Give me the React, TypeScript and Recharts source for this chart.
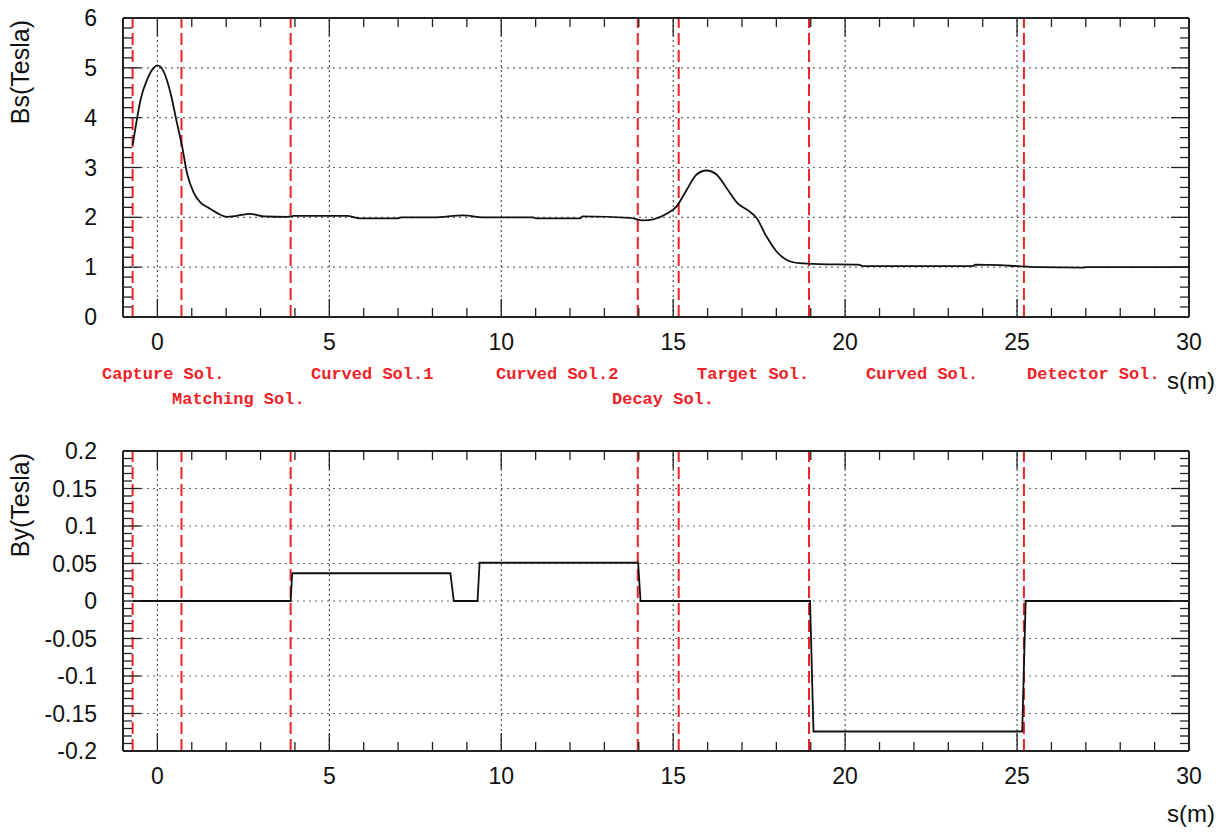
import React from 'react';
import { LineChart, Line, XAxis, YAxis, ReferenceLine } from 'recharts';

// ---------- data ----------
const bsPositions = [
  -0.72, -0.6, -0.49, -0.3, -0.11, 0.0, 0.18, 0.38, 0.57, 0.72, 0.86, 1.06, 1.25, 1.49, 1.73, 2.02,
  2.3, 2.7, 3.09, 3.77, 3.96, 5.51, 5.9, 6.97, 7.1, 8.03, 8.9, 9.48, 10.93, 11.0, 12.29,
  12.37, 13.74, 14.13, 14.42, 14.81, 15.1, 15.39, 15.68, 15.97, 16.26, 16.55, 16.89, 17.18,
  17.42, 17.71, 18.0, 18.29, 18.67, 19.25, 20.38, 20.53, 22.1, 23.73, 23.78, 24.5, 24.99,
  25.62, 26.93, 27.0, 30.0,
];
const bsValues = [
  3.45, 3.95, 4.36, 4.76, 5.0, 5.05, 4.93, 4.5, 3.89, 3.42, 2.89, 2.49, 2.3, 2.19, 2.09, 2.01,
  2.03, 2.07, 2.02, 2.01, 2.03, 2.03, 1.98, 1.98, 2.0, 2.0, 2.04, 2.0, 2.0, 1.98, 1.98,
  2.02, 1.99, 1.94, 1.96, 2.07, 2.22, 2.55, 2.86, 2.94, 2.86, 2.59, 2.27, 2.14,
  1.99, 1.62, 1.32, 1.15, 1.08, 1.06, 1.05, 1.02, 1.02, 1.02, 1.05, 1.04, 1.02,
  1.0, 0.99, 1.0, 1.0,
];
const byPositions = [-0.72, 3.875, 3.92, 8.52, 8.62, 9.31, 9.37, 13.98, 14.05, 18.98, 19.08, 25.15, 25.25, 30.0];
const byValues = [0, 0, 0.037, 0.037, 0, 0, 0.051, 0.051, 0, 0, -0.174, -0.174, 0, 0];

const solenoidEdges = [-0.72, 0.7, 3.875, 13.97, 15.16, 18.95, 25.2];
const solenoidNames = [
  'Capture Sol.', 'Matching Sol.', 'Curved Sol.1', 'Curved Sol.2',
  'Decay Sol.', 'Target Sol.', 'Curved Sol.', 'Detector Sol.',
];

const xTicks = [-1, 0, 1, 2, 3, 4, 5, 6, 7, 8, 9, 10, 11, 12, 13, 14, 15, 16, 17, 18, 19, 20, 21, 22, 23, 24, 25, 26, 27, 28, 29, 30];
const xGrid = [0, 5, 10, 15, 20, 25];
const bsGrid = [1, 2, 3, 4, 5];
const byGrid = [-0.15, -0.1, -0.05, 0, 0.05, 0.1, 0.15];

const bsData = bsPositions.map((s, i) => ({ s, b: bsValues[i] }));
const byData = byPositions.map((s, i) => ({ s, b: byValues[i] }));

const bsTicks: number[] = [];
for (let i = 0; i <= 30; i++) bsTicks.push(Math.round(i * 20) / 100);
const byTicks: number[] = [];
for (let i = -20; i <= 20; i++) byTicks.push(i / 100);

// ---------- layout ----------
const W = 1226;
const PLOT_LEFT = 123;
const PLOT_RIGHT = 1189;
const LABEL_FONT = '"Liberation Sans", Arial, Helvetica, sans-serif';
const MONO_FONT = '"Liberation Mono", "Courier New", monospace';
const RED = '#ee2228';
const AXIS = '#222';
const labelLeft = [102, 172, 311, 496, 612, 697, 866, 1027];
const labelRow = [0, 1, 0, 0, 1, 0, 0, 0];

const isMult = (v: number, step: number) => Math.abs(v / step - Math.round(v / step)) < 1e-6;

const makeXTick = (edge: number, dir: number, withLabel: boolean) => (props: any) => {
  const { x, payload } = props;
  const v = payload.value as number;
  const major = isMult(v, 5);
  const len = major ? 18 : 9;
  return (
    <g>
      <line x1={x} x2={x} y1={edge} y2={edge + dir * len} stroke={AXIS} strokeWidth={1.3} />
      {withLabel && major && v >= 0 ? (
        <text x={x} y={edge + 33} textAnchor="middle" fontSize={23} fontFamily={LABEL_FONT} fill="#111">
          {v}
        </text>
      ) : null}
    </g>
  );
};

const makeYTick = (edge: number, dir: number, withLabel: boolean, step: number) => (props: any) => {
  const { y, payload } = props;
  const v = payload.value as number;
  const major = isMult(v, step);
  const len = major ? 18 : 9;
  const txt = String(Number(v.toFixed(2)));
  return (
    <g>
      <line x1={edge} x2={edge + dir * len} y1={y} y2={y} stroke={AXIS} strokeWidth={1.3} />
      {withLabel && major ? (
        <text x={97} y={y + 8} textAnchor="end" fontSize={23} fontFamily={LABEL_FONT} fill="#111">
          {txt}
        </text>
      ) : null}
    </g>
  );
};

type PanelProps = {
  data: { s: number; b: number }[];
  height: number;
  top: number;
  bottom: number;
  yDomain: [number, number];
  yTicks: number[];
  yGrid: number[];
  yStep: number;
  curve: 'monotone' | 'linear';
};

const Panel = ({ data, height, top, bottom, yDomain, yTicks, yGrid, yStep, curve }: PanelProps) => (
  <LineChart
    width={W}
    height={height}
    data={data}
    margin={{ top: top - 10, right: W - PLOT_RIGHT - 10, left: PLOT_LEFT - 60, bottom: height - bottom - 40 }}
  >
    <XAxis
      xAxisId="b"
      dataKey="s"
      type="number"
      domain={[-1, 30]}
      ticks={xTicks}
      interval={0}
      allowDataOverflow
      height={40}
      tickLine={false}
      axisLine={{ stroke: AXIS, strokeWidth: 2 }}
      tick={makeXTick(bottom, -1, true)}
    />
    <XAxis
      xAxisId="t"
      orientation="top"
      dataKey="s"
      type="number"
      domain={[-1, 30]}
      ticks={xTicks}
      interval={0}
      allowDataOverflow
      height={10}
      tickLine={false}
      axisLine={{ stroke: AXIS, strokeWidth: 2 }}
      tick={makeXTick(top, 1, false)}
    />
    <YAxis
      yAxisId="l"
      type="number"
      domain={yDomain}
      ticks={yTicks}
      interval={0}
      allowDataOverflow
      width={60}
      tickLine={false}
      axisLine={{ stroke: AXIS, strokeWidth: 2 }}
      tick={makeYTick(PLOT_LEFT, 1, true, yStep)}
    />
    <YAxis
      yAxisId="r"
      orientation="right"
      type="number"
      domain={yDomain}
      ticks={yTicks}
      interval={0}
      allowDataOverflow
      width={10}
      tickLine={false}
      axisLine={{ stroke: AXIS, strokeWidth: 2 }}
      tick={makeYTick(PLOT_RIGHT, -1, false, yStep)}
    />
    {xGrid.map((g) => (
      <ReferenceLine key={'vx' + g} x={g} xAxisId="b" yAxisId="l" stroke="#333" strokeWidth={1} strokeDasharray="2 3" />
    ))}
    {yGrid.map((g) => (
      <ReferenceLine key={'hy' + g} y={g} xAxisId="b" yAxisId="l" stroke="#666" strokeWidth={1.2} strokeDasharray="2 4" />
    ))}
    {solenoidEdges.map((e) => (
      <ReferenceLine key={'sol' + e} x={e} xAxisId="b" yAxisId="l" stroke={RED} strokeWidth={2} strokeDasharray="12 5" />
    ))}
    <Line
      xAxisId="b"
      yAxisId="l"
      dataKey="b"
      type={curve}
      stroke="#111"
      strokeWidth={1.8}
      dot={false}
      isAnimationActive={false}
    />
  </LineChart>
);

export default function App() {
  return (
    <div style={{ position: 'absolute', left: 0, top: 0, width: W, height: 832, background: '#fff' }}>
      <div style={{ position: 'absolute', left: 0, top: 0 }}>
        <Panel
          data={bsData}
          height={430}
          top={18}
          bottom={317}
          yDomain={[0, 6]}
          yTicks={bsTicks}
          yGrid={bsGrid}
          yStep={1}
          curve="monotone"
        />
      </div>
      <div style={{ position: 'absolute', left: 0, top: 430 }}>
        <Panel
          data={byData}
          height={402}
          top={21}
          bottom={321}
          yDomain={[-0.2, 0.2]}
          yTicks={byTicks}
          yGrid={byGrid}
          yStep={0.05}
          curve="linear"
        />
      </div>
      <svg
        width={W}
        height={832}
        style={{ position: 'absolute', left: 0, top: 0, pointerEvents: 'none' }}
      >
        <text x={29} y={20} transform="rotate(-90 29 20)" textAnchor="end" fontSize={25} fontFamily={LABEL_FONT} fill="#111">
          Bs(Tesla)
        </text>
        <text x={29} y={453} transform="rotate(-90 29 453)" textAnchor="end" fontSize={25} fontFamily={LABEL_FONT} fill="#111">
          By(Tesla)
        </text>
        <text x={1215} y={389} textAnchor="end" fontSize={24} fontFamily={LABEL_FONT} fill="#111">
          s(m)
        </text>
        <text x={1215} y={822} textAnchor="end" fontSize={24} fontFamily={LABEL_FONT} fill="#111">
          s(m)
        </text>
        {solenoidNames.map((n, i) => (
          <text
            key={n}
            x={labelLeft[i]}
            y={labelRow[i] === 0 ? 379 : 404}
            fontSize={17}
            fontWeight="bold"
            fontFamily={MONO_FONT}
            fill={RED}
          >
            {n}
          </text>
        ))}
      </svg>
    </div>
  );
}
